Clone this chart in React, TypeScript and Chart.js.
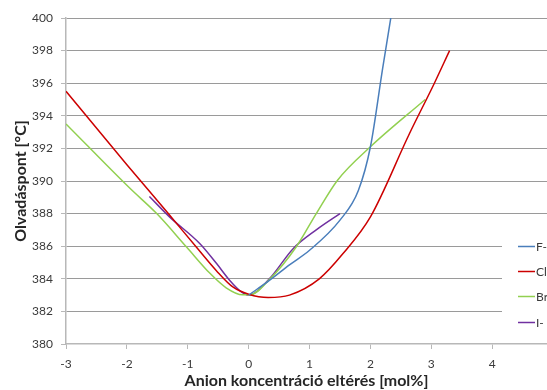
import React, { useEffect, useRef } from "react";
import { Chart, registerables } from "chart.js";

Chart.register(...registerables);

const xTicks = [-3, -2, -1, 0, 1, 2, 3, 4];
const yTicks = [380, 382, 384, 386, 388, 390, 392, 394, 396, 398, 400];

const fX = [0, 0.34, 0.67, 1.0, 1.5, 1.8, 2.0, 2.2, 2.4];
const fY = [383.0, 383.9, 384.85, 385.75, 387.6, 389.4, 392.1, 396.9, 401.5];

const clX = [-3, -2, -1.32, -0.86, -0.53, -0.26, 0, 0.32, 0.67, 1.16, 1.55, 2.0, 2.64, 3.05, 3.3];
const clY = [395.5, 391.0, 388.0, 385.95, 384.5, 383.5, 383.05, 382.85, 383.0, 384.0, 385.55, 387.8, 392.9, 396.0, 398.0];

const brX = [-3, -1.95, -1.51, -1.02, -0.64, -0.37, -0.1, 0.02, 0.34, 0.78, 1.11, 1.46, 2.0, 2.9];
const brY = [393.5, 389.55, 388.0, 385.95, 384.35, 383.45, 383.02, 383.02, 383.95, 385.95, 388.0, 390.05, 392.1, 395.0];

const iX = [-1.63, -1.3, -0.8, -0.53, -0.31, -0.12, 0, 0.34, 0.73, 1.11, 1.5];
const iY = [389.05, 387.8, 386.15, 384.95, 383.9, 383.2, 383.0, 384.0, 385.85, 387.0, 388.0];

const seriesNames = ["F-", "Cl-", "Br-", "I-"];
const seriesColors = ["#4a7ebb", "#cc0000", "#92d050", "#7030a0"];

const FONT = "Lato, 'Open Sans', sans-serif";

const toPts = (xs: number[], ys: number[]) => xs.map((x, i) => ({ x, y: ys[i] }));

const legendPlugin = {
  id: "customLegend",
  afterDraw(chart: any) {
    const ctx = chart.ctx;
    ctx.save();
    ctx.fillStyle = "#ffffff";
    ctx.fillRect(502, 226, 60, 110);
    ctx.font = "12px " + FONT;
    ctx.textBaseline = "middle";
    ctx.textAlign = "left";
    const ys = [246.5, 271.5, 296.5, 322.5];
    seriesNames.forEach((n, i) => {
      ctx.strokeStyle = seriesColors[i];
      ctx.lineWidth = 1.5;
      ctx.beginPath();
      ctx.moveTo(518, ys[i]);
      ctx.lineTo(535, ys[i]);
      ctx.stroke();
      ctx.fillStyle = "#3a3a3a";
      ctx.fillText(n, 536, ys[i] + 0.5);
    });
    ctx.restore();
  },
};

export default function App() {
  const ref = useRef<HTMLCanvasElement | null>(null);
  useEffect(() => {
    document.body.style.margin = "0";
    document.body.style.overflow = "hidden";
    const canvas = ref.current!;
    const datasets = [
      toPts(fX, fY),
      toPts(clX, clY),
      toPts(brX, brY),
      toPts(iX, iY),
    ].map((data, i) => ({
      label: seriesNames[i],
      data,
      borderColor: seriesColors[i],
      backgroundColor: seriesColors[i],
      borderWidth: 1.5,
      pointRadius: 0,
      fill: false,
      cubicInterpolationMode: "monotone" as const,
    }));
    const chart = new Chart(canvas, {
      type: "line",
      data: { datasets },
      plugins: [legendPlugin],
      options: {
        animation: false,
        responsive: false,
        devicePixelRatio: 1,
        layout: { padding: { left: 11, top: 18, right: 0, bottom: 0 } },
        plugins: { legend: { display: false }, tooltip: { enabled: false } },
        scales: {
          x: {
            type: "linear",
            min: -3,
            max: 4.9,
            afterFit: (s: any) => {
              s.height = 46;
            },
            afterBuildTicks: (s: any) => {
              s.ticks = xTicks.map((v) => ({ value: v }));
            },
            grid: {
              drawOnChartArea: false,
              drawTicks: true,
              tickLength: 5,
              color: "#b8b8b8",
            },
            border: { color: "#b8b8b8", width: 1.5 },
            ticks: {
              color: "#3a3a3a",
              font: { family: FONT, size: 12 },
              padding: 8,
              maxRotation: 0,
              autoSkip: false,
            },
            title: {
              display: true,
              text: "Anion koncentráció eltérés [mol%]",
              color: "#262626",
              font: { family: FONT, size: 16, weight: "bold" },
              padding: 0,
            },
          },
          y: {
            type: "linear",
            min: 380,
            max: 400,
            afterFit: (s: any) => {
              s.width = 55;
            },
            afterBuildTicks: (s: any) => {
              s.ticks = yTicks.map((v) => ({ value: v }));
            },
            grid: {
              color: (c: any) => (c.tick && c.tick.value === 380 ? "rgba(0,0,0,0)" : "#9a9a9a"),
              tickColor: "#b8b8b8",
              tickLength: 5,
              lineWidth: 1,
            },
            border: { color: "#b8b8b8", width: 1.5 },
            ticks: {
              color: "#3a3a3a",
              font: { family: FONT, size: 12 },
              padding: 8,
              autoSkip: false,
            },
            title: {
              display: true,
              text: "Olvadáspont [°C]",
              color: "#262626",
              font: { family: FONT, size: 16, weight: "bold" },
              padding: 0,
            },
          },
        },
      },
    });
    return () => chart.destroy();
  }, []);
  return (
    <div style={{ width: 547, height: 390 }}>
      <canvas ref={ref} width={547} height={390} style={{ display: "block" }} />
    </div>
  );
}
